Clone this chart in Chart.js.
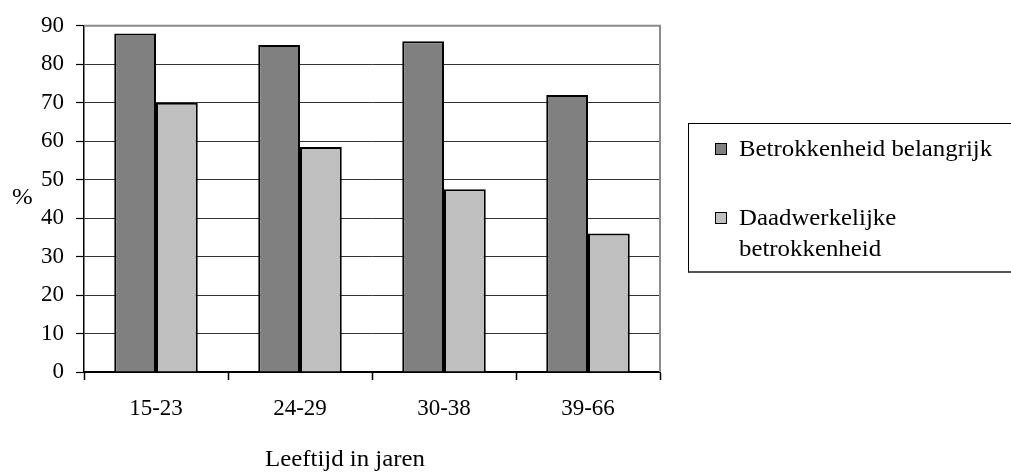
<!DOCTYPE html>
<html>
<head>
<meta charset="utf-8">
<script src="https://cdn.jsdelivr.net/npm/chart.js@4.4.0/dist/chart.umd.min.js"></script>
<style>
  body { margin: 0; background: #fff; }
  #wrap { position: relative; width: 1011px; height: 474px; overflow: hidden; font-family: "Liberation Serif", "Times New Roman", serif; color: #000; }
  #chart { position: absolute; left: 0; top: 0; }
  #pct { position: absolute; left: 12px; top: 184px; font-size: 23px; transform: scaleX(1.08); transform-origin: left top; }
  #xtitle { position: absolute; left: 265px; top: 446px; font-size: 23px; white-space: nowrap; transform: scaleX(1.08); transform-origin: left top; }
  #legend { position: absolute; left: 688px; top: 123px; width: 340px; height: 150px; border: 1px solid #000; border-bottom: 2px solid #555; box-sizing: border-box; font-size: 23px; }
  .item { position: absolute; left: 26px; display: flex; align-items: flex-start; line-height: 31px; }
  .sw { width: 10px; height: 10px; border: 1px solid #000; margin: 10px 12px 0 0; flex: none; }
  .txt { display: inline-block; transform: scaleX(1.08); transform-origin: left top; }
</style>
</head>
<body>
<div id="wrap">
  <canvas id="chart" width="1011" height="474"></canvas>
  <div id="pct">%</div>
  <div id="xtitle">Leeftijd in jaren</div>
  <div id="legend"></div>
</div>
<script>
const categories = ["15-23", "24-29", "30-38", "39-66"];
const belangrijk = [88, 85, 86, 72];
const daadwerkelijk = [70, 58.5, 47.5, 36];
const seriesNames = ["Betrokkenheid belangrijk", "Daadwerkelijke betrokkenheid"];
const seriesColors = ["#808080", "#c0c0c0"];

const plotBorder = {
  id: "plotBorder",
  afterDatasetsDraw(chart) {
    const a = chart.chartArea;
    const ctx = chart.ctx;
    ctx.save();
    ctx.strokeStyle = "#8c8c8c";
    ctx.lineWidth = 2;
    ctx.beginPath();
    ctx.moveTo(a.left, a.top);
    ctx.lineTo(a.right, a.top);
    ctx.lineTo(a.right, a.bottom);
    ctx.stroke();
    ctx.restore();
  }
};

const chart = new Chart(document.getElementById("chart"), {
  type: "bar",
  data: {
    labels: categories,
    datasets: [
      { label: seriesNames[0], data: belangrijk, backgroundColor: seriesColors[0], borderColor: "#000", borderWidth: 2 },
      { label: seriesNames[1], data: daadwerkelijk, backgroundColor: seriesColors[1], borderColor: "#000", borderWidth: 2 }
    ]
  },
  options: {
    responsive: false,
    animation: false,
    layout: { padding: { top: 25, right: 351, left: 0, bottom: 0 } },
    plugins: { legend: { display: false }, tooltip: { enabled: false } },
    datasets: { bar: { categoryPercentage: 0.58, barPercentage: 1 } },
    scales: {
      x: {
        offset: true,
        afterFit(s) { s.height = 102; },
        grid: { offset: true, drawOnChartArea: false, drawTicks: true, tickLength: 8, tickColor: "#000", tickWidth: 1.5 },
        border: { color: "#000", width: 2 },
        ticks: { color: "#000", padding: 15, font: { family: "Liberation Serif", size: 23 } }
      },
      y: {
        min: 0, max: 90,
        afterFit(s) { s.width = 84; },
        grid: { color: "#333", lineWidth: 1, tickLength: 8, tickColor: "#000", tickWidth: 1.2 },
        border: { color: "#000", width: 1.5 },
        ticks: { stepSize: 10, color: "#000", padding: 12, font: { family: "Liberation Serif", size: 23 } }
      }
    }
  },
  plugins: [plotBorder]
});

// legend built from the series arrays
const legend = document.getElementById("legend");
const tops = [9, 78];
seriesNames.forEach((name, i) => {
  const item = document.createElement("div");
  item.className = "item";
  item.style.top = tops[i] + "px";
  item.style.width = i === 1 ? "185px" : "300px";
  const sw = document.createElement("span");
  sw.className = "sw";
  sw.style.background = seriesColors[i];
  const txt = document.createElement("span");
  txt.className = "txt";
  txt.textContent = name;
  item.appendChild(sw);
  item.appendChild(txt);
  legend.appendChild(item);
});
</script>
</body>
</html>
